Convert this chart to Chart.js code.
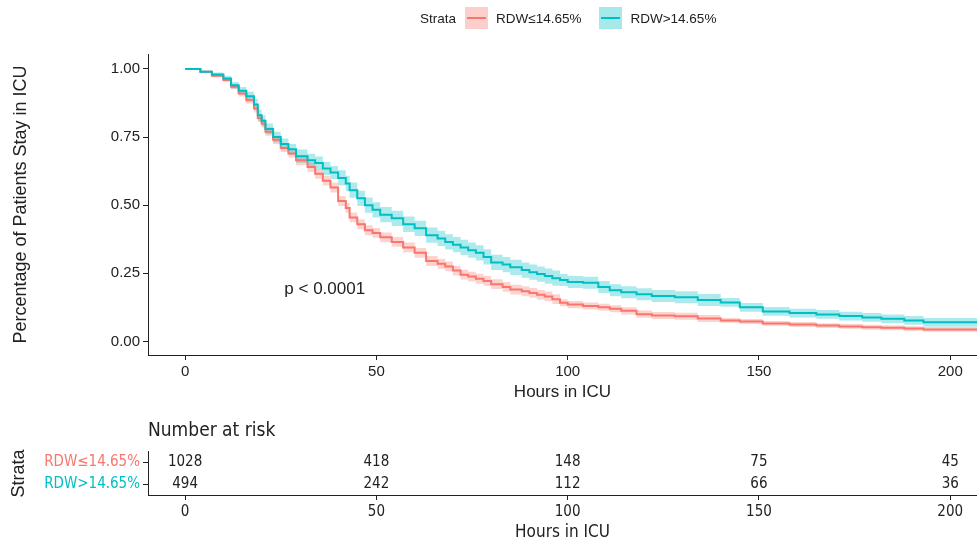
<!DOCTYPE html>
<html>
<head>
<meta charset="utf-8">
<script src="https://cdn.jsdelivr.net/npm/chart.js@4.4.0/dist/chart.umd.min.js"></script>
<style>
  body { margin: 0; background: #fff; font-family: "Liberation Sans", Arial, sans-serif; }
  #wrap { position: relative; width: 977px; height: 541px; overflow: hidden; }
  #main { position: absolute; left: 0; top: 0; }
  #risk { position: absolute; left: 0; top: 420px; }
  #legend { position: absolute; top: 7px; left: 420px; display: flex; align-items: center; font-size: 13.5px; color: #222; }
  .key { width: 23px; height: 22px; position: relative; margin: 0 8px 0 9px; }
  .key span { position: absolute; left: 2px; right: 2px; top: 10px; height: 2px; }
  .lab { margin-right: 9px; }
</style>
</head>
<body>
<div id="wrap">
  <canvas id="main" width="977" height="405"></canvas>
  <canvas id="risk" width="977" height="123"></canvas>
  <div id="legend">
    <span>Strata</span>
    <div class="key" style="background:rgba(248,118,109,0.35)"><span style="background:#F8766D"></span></div>
    <span class="lab">RDW≤14.65%</span>
    <div class="key" style="background:rgba(0,191,196,0.35)"><span style="background:#00BFC4"></span></div>
    <span class="lab">RDW&gt;14.65%</span>
  </div>
</div>
<script>
// time grid (hours in ICU)
const hours = [0,4,7,10,12,14,16,18,19,20,21,23,25,27,29,32,34,36,38,40,42,43,45,47,49,51,54,57,60,63,66,68,70,72,74,76,78,80,83,85,88,90,92,94,96,98,100,104,108,111,114,118,122,128,134,140,145,151,158,165,171,177,182,188,193,198,207];

// RDW>14.65%
const highSurv = [1.000,1.000,0.990,0.980,0.965,0.940,0.920,0.900,0.870,0.830,0.810,0.780,0.750,0.725,0.705,0.680,0.665,0.655,0.635,0.620,0.600,0.580,0.555,0.525,0.500,0.483,0.465,0.452,0.430,0.415,0.390,0.378,0.365,0.355,0.345,0.335,0.325,0.310,0.290,0.282,0.272,0.262,0.254,0.247,0.240,0.232,0.225,0.218,0.215,0.200,0.188,0.180,0.173,0.167,0.162,0.152,0.143,0.125,0.110,0.104,0.099,0.093,0.088,0.083,0.077,0.070,0.070];
const highUpper = [1.000,1.000,0.994,0.987,0.974,0.952,0.934,0.916,0.890,0.850,0.830,0.800,0.770,0.745,0.725,0.704,0.689,0.679,0.659,0.644,0.628,0.608,0.583,0.553,0.528,0.511,0.493,0.480,0.458,0.443,0.418,0.406,0.393,0.383,0.373,0.363,0.353,0.338,0.318,0.310,0.300,0.290,0.282,0.275,0.268,0.260,0.247,0.240,0.237,0.222,0.210,0.202,0.195,0.189,0.184,0.174,0.159,0.141,0.126,0.120,0.115,0.109,0.104,0.099,0.093,0.086,0.086];
const highLower = [1.000,1.000,0.986,0.973,0.956,0.928,0.906,0.884,0.850,0.810,0.790,0.760,0.730,0.705,0.685,0.656,0.641,0.631,0.611,0.596,0.572,0.552,0.527,0.497,0.472,0.455,0.437,0.424,0.402,0.387,0.362,0.350,0.337,0.327,0.317,0.307,0.297,0.282,0.262,0.254,0.244,0.234,0.226,0.219,0.212,0.204,0.203,0.196,0.193,0.178,0.166,0.158,0.151,0.145,0.140,0.130,0.127,0.109,0.094,0.088,0.083,0.077,0.072,0.067,0.061,0.054,0.054];

// RDW≤14.65%
const lowSurv = [1.000,1.000,0.990,0.975,0.960,0.935,0.910,0.885,0.855,0.820,0.800,0.770,0.740,0.710,0.690,0.665,0.640,0.615,0.590,0.565,0.515,0.490,0.455,0.430,0.408,0.398,0.382,0.365,0.345,0.325,0.295,0.285,0.275,0.260,0.245,0.238,0.230,0.222,0.210,0.200,0.190,0.184,0.178,0.171,0.165,0.155,0.142,0.135,0.130,0.125,0.120,0.112,0.100,0.095,0.092,0.084,0.077,0.073,0.066,0.062,0.058,0.055,0.052,0.050,0.047,0.044,0.044];
const lowUpper = [1.000,1.000,0.993,0.980,0.967,0.944,0.921,0.897,0.870,0.835,0.815,0.785,0.755,0.725,0.705,0.683,0.658,0.633,0.608,0.583,0.533,0.508,0.473,0.448,0.426,0.416,0.400,0.383,0.363,0.343,0.313,0.303,0.293,0.278,0.263,0.256,0.248,0.240,0.228,0.218,0.208,0.202,0.196,0.189,0.183,0.173,0.155,0.148,0.143,0.138,0.133,0.125,0.113,0.108,0.105,0.097,0.086,0.082,0.075,0.071,0.067,0.064,0.061,0.059,0.056,0.053,0.053];
const lowLower = [1.000,1.000,0.987,0.970,0.953,0.926,0.899,0.873,0.840,0.805,0.785,0.755,0.725,0.695,0.675,0.647,0.622,0.597,0.572,0.547,0.497,0.472,0.437,0.412,0.390,0.380,0.364,0.347,0.327,0.307,0.277,0.267,0.257,0.242,0.227,0.220,0.212,0.204,0.192,0.182,0.172,0.166,0.160,0.153,0.147,0.137,0.129,0.122,0.117,0.112,0.107,0.099,0.087,0.082,0.079,0.071,0.068,0.064,0.057,0.053,0.049,0.046,0.043,0.041,0.038,0.035,0.035];

// axes
const xTicks = [0, 50, 100, 150, 200];
const yTicks = [0, 0.25, 0.5, 0.75, 1];

// risk table
const strata = ['RDW≤14.65%', 'RDW>14.65%'];
const strataColors = ['#F8766D', '#00BFC4'];
const riskTimes = [0, 50, 100, 150, 200];
const riskLow = [1028, 418, 148, 75, 45];
const riskHigh = [494, 242, 112, 66, 36];

const FONT = '"Liberation Sans", Arial, sans-serif';
const NARROW = '"Liberation Sans Narrow", "DejaVu Sans Condensed", "Liberation Sans", sans-serif';
const INK = '#222';

function pts(ys) {
    return hours.map((h, i) => ({ x: h, y: ys[i] }));
}

function band(ys, color, fill, order) {
    return {
        data: pts(ys),
        borderWidth: 0,
        pointRadius: 0,
        stepped: 'after',
        backgroundColor: color,
        fill: fill,
        order: order
    };
}

const pLabel = {
    id: 'pLabel',
    afterDatasetsDraw(chart) {
        const { ctx, scales } = chart;
        ctx.save();
        ctx.font = '17px ' + FONT;
        ctx.fillStyle = INK;
        ctx.textAlign = 'center';
        ctx.textBaseline = 'middle';
        ctx.fillText('p < 0.0001', scales.x.getPixelForValue(36.5), scales.y.getPixelForValue(0.19));
        ctx.restore();
    }
};

new Chart(document.getElementById('main'), {
    type: 'line',
    data: {
        datasets: [
            { data: pts(highSurv), borderColor: '#00BFC4', borderWidth: 2, pointRadius: 0, stepped: 'after', fill: false, order: 0 },
            { data: pts(lowSurv), borderColor: '#F8766D', borderWidth: 2, pointRadius: 0, stepped: 'after', fill: false, order: 1 },
            band(highLower, 'rgba(0,191,196,0.32)', '+1', 2),
            band(highUpper, 'transparent', false, 3),
            band(lowLower, 'rgba(248,118,109,0.32)', '+1', 4),
            band(lowUpper, 'transparent', false, 5)
        ]
    },
    options: {
        responsive: false,
        animation: false,
        devicePixelRatio: 1,
        layout: { padding: { top: 54, right: 0, left: 0, bottom: 0 } },
        plugins: { legend: { display: false }, tooltip: { enabled: false } },
        scales: {
            x: {
                type: 'linear',
                min: -9.7,
                max: 207,
                afterBuildTicks: s => { s.ticks = xTicks.map(v => ({ value: v })); },
                afterFit: s => { s.height = 50; },
                grid: { drawOnChartArea: false, color: INK, tickLength: 5 },
                border: { display: true, color: INK, width: 1 },
                ticks: { color: INK, font: { family: FONT, size: 15 }, padding: 3 },
                title: { display: true, text: 'Hours in ICU', color: INK, font: { family: FONT, size: 17 }, padding: { top: 0, bottom: 2 } }
            },
            y: {
                min: -0.05,
                max: 1.055,
                afterBuildTicks: s => { s.ticks = yTicks.map(v => ({ value: v })); },
                afterFit: s => { s.width = 148; },
                grid: { drawOnChartArea: false, color: INK, tickLength: 5 },
                border: { display: true, color: INK, width: 1 },
                ticks: { color: INK, font: { family: FONT, size: 15 }, padding: 3, callback: v => v.toFixed(2) },
                title: { display: true, text: 'Percentage of Patients Stay in ICU', color: INK, font: { family: FONT, size: 18 }, padding: { top: 10, bottom: 6 } }
            }
        }
    },
    plugins: [pLabel]
});

const riskNumbers = {
    id: 'riskNumbers',
    afterDatasetsDraw(chart) {
        const { ctx, scales } = chart;
        ctx.save();
        ctx.font = '15px ' + NARROW;
        ctx.fillStyle = INK;
        ctx.textAlign = 'center';
        ctx.textBaseline = 'middle';
        [riskLow, riskHigh].forEach((row, r) => {
            row.forEach((n, i) => {
                ctx.fillText(String(n), scales.x.getPixelForValue(riskTimes[i]), scales.y.getPixelForValue(r));
            });
        });
        ctx.restore();
    }
};

new Chart(document.getElementById('risk'), {
    type: 'line',
    data: { labels: strata, datasets: [{ data: [], pointRadius: 0 }] },
    options: {
        responsive: false,
        animation: false,
        devicePixelRatio: 1,
        layout: { padding: 0 },
        plugins: {
            legend: { display: false },
            tooltip: { enabled: false },
            title: {
                display: true,
                text: 'Number at risk',
                align: 'start',
                fullSize: false,
                color: INK,
                font: { family: NARROW, size: 19, weight: 'normal' },
                padding: { top: 0, bottom: 9 }
            }
        },
        scales: {
            x: {
                type: 'linear',
                min: -9.7,
                max: 207,
                afterBuildTicks: s => { s.ticks = riskTimes.map(v => ({ value: v })); },
                afterFit: s => { s.height = 48; },
                grid: { drawOnChartArea: false, color: INK, tickLength: 5 },
                border: { display: true, color: INK, width: 1 },
                ticks: { color: INK, font: { family: NARROW, size: 15 }, padding: 3 },
                title: { display: true, text: 'Hours in ICU', color: INK, font: { family: NARROW, size: 17 }, padding: 0 }
            },
            y: {
                type: 'category',
                offset: true,
                afterFit: s => { s.width = 148; },
                grid: { drawOnChartArea: false, color: INK, tickLength: 5 },
                border: { display: true, color: INK, width: 1 },
                ticks: { color: c => strataColors[c.index], font: { family: NARROW, size: 15 }, padding: 3 },
                title: { display: true, text: 'Strata', color: INK, font: { family: FONT, size: 18 }, padding: { top: 8, bottom: 2 } }
            }
        }
    },
    plugins: [riskNumbers]
});
</script>
</body>
</html>
